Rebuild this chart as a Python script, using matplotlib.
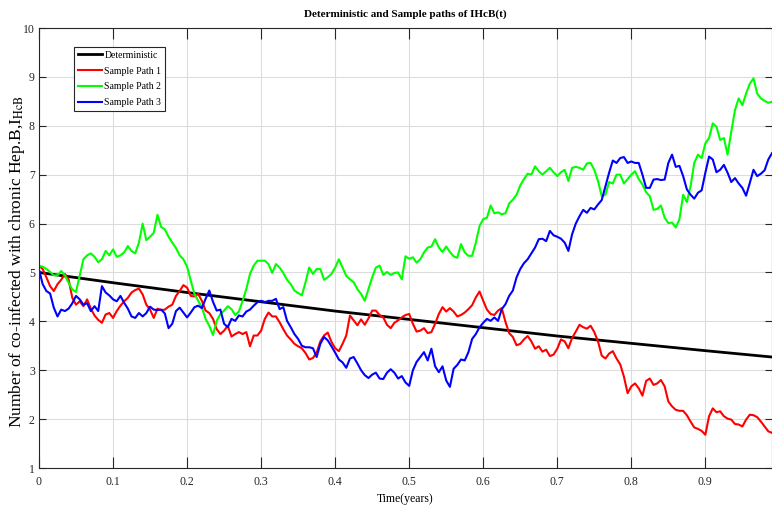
import numpy as np
import matplotlib
matplotlib.use('Agg')
import matplotlib.pyplot as plt

plt.rcParams['font.family'] = ['Liberation Serif', 'DejaVu Serif']
plt.rcParams['mathtext.fontset'] = 'stix'

# time grid of the sample paths (years)
t = np.linspace(0, 0.99, 199)

# deterministic solution, read at 0.1 year steps
t_det = [0, 0.1, 0.2, 0.3, 0.4, 0.5, 0.6, 0.7, 0.8, 0.9, 0.99]
det = [5.00, 4.79, 4.59, 4.40, 4.21, 4.04, 3.87, 3.70, 3.55, 3.40, 3.27]

path1 = [5.14, 5.07, 4.90, 4.72, 4.62, 4.76, 4.85, 4.97, 4.86, 4.48,
         4.34, 4.41, 4.31, 4.45, 4.26, 4.12, 4.03, 3.97, 4.14, 4.17,
         4.07, 4.21, 4.32, 4.41, 4.48, 4.59, 4.64, 4.67, 4.55, 4.34,
         4.24, 4.07, 4.26, 4.23, 4.24, 4.30, 4.34, 4.52, 4.62, 4.74,
         4.69, 4.52, 4.51, 4.56, 4.42, 4.22, 4.17, 4.05, 3.84, 3.74,
         3.81, 3.91, 3.69, 3.74, 3.78, 3.74, 3.78, 3.49, 3.71, 3.71,
         3.81, 4.05, 4.18, 4.10, 4.10, 3.98, 3.84, 3.71, 3.63, 3.54,
         3.49, 3.45, 3.35, 3.22, 3.25, 3.36, 3.59, 3.71, 3.77, 3.58,
         3.45, 3.39, 3.54, 3.71, 4.12, 4.02, 3.92, 4.04, 3.93, 4.06,
         4.22, 4.22, 4.13, 4.08, 3.93, 3.86, 3.97, 4.02, 4.08, 4.13,
         4.15, 3.95, 3.79, 3.81, 3.86, 3.76, 3.78, 3.95, 4.15, 4.29,
         4.20, 4.27, 4.20, 4.10, 4.13, 4.18, 4.25, 4.33, 4.49, 4.61,
         4.42, 4.24, 4.15, 4.13, 4.22, 4.27, 3.99, 3.76, 3.68, 3.51,
         3.54, 3.63, 3.70, 3.59, 3.44, 3.49, 3.38, 3.42, 3.29, 3.32,
         3.44, 3.63, 3.59, 3.45, 3.66, 3.79, 3.93, 3.88, 3.85, 3.91,
         3.78, 3.59, 3.30, 3.24, 3.34, 3.39, 3.24, 3.12, 2.87, 2.53,
         2.67, 2.73, 2.63, 2.48, 2.78, 2.83, 2.70, 2.73, 2.80, 2.67,
         2.36, 2.26, 2.19, 2.17, 2.17, 2.08, 1.95, 1.83, 1.80, 1.76,
         1.68, 2.06, 2.22, 2.14, 2.16, 2.06, 2.01, 1.99, 1.90, 1.89,
         1.85, 1.99, 2.09, 2.08, 2.04, 1.95, 1.85, 1.75, 1.72]

path2 = [5.13, 5.12, 5.07, 5.01, 4.94, 4.94, 5.03, 4.94, 4.79, 4.65,
         4.60, 4.93, 5.27, 5.35, 5.39, 5.32, 5.21, 5.27, 5.44, 5.35,
         5.47, 5.32, 5.35, 5.41, 5.54, 5.44, 5.39, 5.61, 6.00, 5.66,
         5.73, 5.81, 6.18, 5.93, 5.88, 5.73, 5.61, 5.50, 5.35, 5.27,
         5.12, 4.83, 4.56, 4.42, 4.29, 4.05, 3.91, 3.72, 4.01, 4.15,
         4.22, 4.31, 4.25, 4.13, 4.20, 4.42, 4.66, 4.97, 5.14, 5.24,
         5.24, 5.24, 5.17, 4.99, 5.17, 5.10, 4.99, 4.85, 4.76, 4.63,
         4.58, 4.53, 4.80, 5.10, 4.97, 5.07, 5.07, 4.85, 4.90, 4.97,
         5.10, 5.27, 5.10, 4.93, 4.86, 4.80, 4.66, 4.56, 4.42, 4.66,
         4.90, 5.10, 5.14, 4.95, 5.01, 4.95, 4.99, 5.00, 4.86, 5.33,
         5.28, 5.31, 5.20, 5.27, 5.41, 5.51, 5.53, 5.68, 5.51, 5.42,
         5.53, 5.42, 5.33, 5.30, 5.58, 5.41, 5.34, 5.34, 5.61, 5.95,
         6.09, 6.12, 6.37, 6.21, 6.23, 6.19, 6.21, 6.41, 6.49, 6.59,
         6.78, 6.91, 7.02, 7.00, 7.17, 7.07, 7.00, 7.07, 7.14, 7.05,
         6.97, 7.05, 7.10, 6.87, 7.14, 7.16, 7.14, 7.10, 7.23, 7.24,
         7.10, 6.87, 6.56, 6.59, 6.85, 6.82, 7.00, 7.00, 6.82, 6.91,
         7.00, 7.07, 6.91, 6.80, 6.64, 6.56, 6.28, 6.30, 6.37, 6.12,
         6.01, 6.02, 5.92, 6.09, 6.59, 6.44, 6.76, 7.24, 7.41, 7.34,
         7.64, 7.75, 8.05, 7.98, 7.71, 7.75, 7.41, 7.88, 8.32, 8.56,
         8.42, 8.66, 8.86, 8.97, 8.66, 8.56, 8.51, 8.47, 8.49]

path3 = [5.06, 4.76, 4.62, 4.57, 4.28, 4.10, 4.24, 4.21, 4.26, 4.37,
         4.52, 4.45, 4.34, 4.37, 4.21, 4.31, 4.21, 4.72, 4.59, 4.53,
         4.45, 4.41, 4.52, 4.38, 4.26, 4.10, 4.07, 4.17, 4.10, 4.17,
         4.30, 4.24, 4.23, 4.24, 4.16, 3.86, 3.95, 4.21, 4.28, 4.18,
         4.08, 4.18, 4.29, 4.32, 4.27, 4.46, 4.63, 4.40, 4.22, 4.24,
         3.95, 3.88, 4.05, 4.01, 4.12, 4.10, 4.20, 4.24, 4.32, 4.39,
         4.42, 4.39, 4.42, 4.42, 4.46, 4.25, 4.29, 4.01, 3.88, 3.74,
         3.64, 3.50, 3.47, 3.47, 3.45, 3.27, 3.54, 3.68, 3.61, 3.49,
         3.36, 3.22, 3.16, 3.05, 3.24, 3.27, 3.14, 3.00, 2.90, 2.84,
         2.91, 2.95, 2.83, 2.82, 2.95, 3.02, 2.95, 2.83, 2.88, 2.75,
         2.68, 3.00, 3.17, 3.27, 3.37, 3.20, 3.44, 3.08, 2.96, 3.08,
         2.79, 2.66, 3.03, 3.11, 3.22, 3.20, 3.37, 3.64, 3.74, 3.88,
         3.97, 4.05, 4.01, 4.08, 4.01, 4.25, 4.35, 4.52, 4.63, 4.90,
         5.07, 5.19, 5.27, 5.39, 5.51, 5.68, 5.69, 5.64, 5.85, 5.76,
         5.73, 5.69, 5.61, 5.44, 5.78, 6.00, 6.15, 6.28, 6.22, 6.32,
         6.29, 6.39, 6.48, 6.76, 7.04, 7.29, 7.24, 7.34, 7.36, 7.24,
         7.27, 7.24, 7.24, 7.00, 6.73, 6.73, 6.90, 6.91, 6.89, 6.90,
         7.24, 7.41, 7.16, 7.18, 6.97, 6.70, 6.59, 6.51, 6.63, 6.68,
         7.04, 7.37, 7.31, 7.05, 7.10, 7.20, 7.04, 6.85, 6.93, 6.82,
         6.73, 6.57, 6.83, 7.10, 6.97, 7.02, 7.09, 7.31, 7.44]

fig = plt.figure(figsize=(7.72, 5.13), dpi=100)
ax = fig.add_axes([0.0505, 0.0877, 0.9495, 0.8577])

ax.plot(t_det, det, color='black', lw=2, label='Deterministic')
ax.plot(t, path1, color='#ff0000', lw=1.5, label='Sample Path 1')
ax.plot(t, path2, color='#00ff00', lw=1.5, label='Sample Path 2')
ax.plot(t, path3, color='#0000ff', lw=1.5, label='Sample Path 3')

ax.set_xlim(0, 0.99)
ax.set_ylim(1, 10)
ax.set_xticks(np.arange(0, 1.0, 0.1))
ax.set_xticklabels(['0', '0.1', '0.2', '0.3', '0.4', '0.5', '0.6', '0.7', '0.8', '0.9'])
ax.set_yticks(range(1, 11))

ax.grid(True, color='#dcdcdc', lw=0.8)
ax.set_axisbelow(True)
for s in ax.spines.values():
    s.set_color('#262626')
    s.set_linewidth(0.8)
ax.tick_params(axis='x', direction='in', top=True, length=8, width=0.8,
               colors='#262626', labelsize=8.5, pad=6)
ax.tick_params(axis='y', direction='in', right=True, length=5, width=0.8,
               colors='#262626', labelsize=8.5, pad=3)

ax.set_title('Deterministic and Sample paths of IHcB(t)', fontsize=8,
             fontweight='bold', pad=8)
ax.set_xlabel('Time(years)', fontsize=8.5, labelpad=3)
ax.set_ylabel('Number of co-infected with chronic Hep.B,I$_{\\mathrm{HcB}}$',
              fontsize=12.5)
ax.yaxis.set_label_coords(-0.017, 0.47)

leg = ax.legend(loc='upper left', bbox_to_anchor=(0.048, 0.957), borderaxespad=0,
                fontsize=7, handlelength=2.5, handletextpad=0.2,
                labelspacing=0.7, borderpad=0.4, fancybox=False, framealpha=1)
leg.get_frame().set_edgecolor('#262626')
leg.get_frame().set_linewidth(0.8)

fig.savefig('out.png', dpi=100)
